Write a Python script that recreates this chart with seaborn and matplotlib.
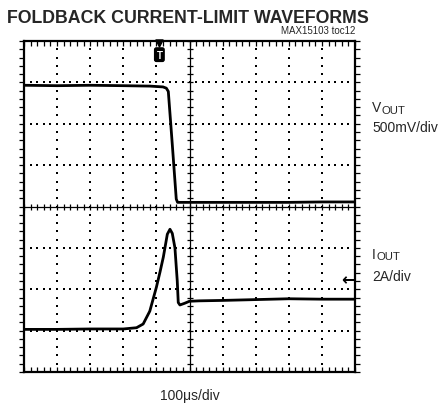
"""
Foldback current-limit waveforms (scope capture): VOUT and IOUT vs time.
"""

import numpy as np
import pandas as pd
import matplotlib
matplotlib.use('Agg')
import matplotlib.pyplot as plt
from matplotlib import font_manager
import seaborn as sns

# trace data, in scope divisions (x: 10 div, y: 8 div)
vout_t = [0, 1, 2, 3, 3.8, 4.2, 4.3, 4.36, 4.48, 4.6, 4.64, 4.8, 5, 6, 7, 8, 9, 10]
vout_v = [6.93, 6.92, 6.93, 6.92, 6.91, 6.89, 6.86, 6.78, 5.5, 4.18, 4.1, 4.1,
          4.1, 4.1, 4.1, 4.1, 4.11, 4.11]

iout_t = [0, 1, 2, 3, 3.4, 3.6, 3.8, 4.0, 4.11, 4.21, 4.33, 4.41, 4.48, 4.56,
          4.63, 4.66, 4.71, 4.85, 5, 5.3, 6, 7, 8, 9, 10]
iout_v = [1.03, 1.03, 1.04, 1.04, 1.07, 1.16, 1.47, 2.05, 2.42, 2.78, 3.33, 3.45,
          3.35, 3.0, 2.2, 1.68, 1.62, 1.66, 1.71, 1.72, 1.73, 1.75, 1.77, 1.76, 1.76]

title = 'FOLDBACK CURRENT-LIMIT WAVEFORMS'
tag = 'MAX15103 toc12'
time_label = '100\u03bcs/div'

sns.set_theme(style='white')
plt.rcParams['font.family'] = ['Liberation Sans', 'DejaVu Sans']

installed = {f.name for f in font_manager.fontManager.ttflist}
if 'Liberation Sans Narrow' in installed:
    title_font, title_size = ['Liberation Sans Narrow', 'DejaVu Sans'], 14.5
else:
    title_font, title_size = ['Liberation Sans', 'DejaVu Sans'], 12.8

W, H = 444, 410
fig = plt.figure(figsize=(W / 100, H / 100), dpi=100)
ax = fig.add_axes([24 / W, 37 / H, 331 / W, 331 / H])

df = pd.concat([
    pd.DataFrame({'t': vout_t, 'v': vout_v, 'trace': 'VOUT'}),
    pd.DataFrame({'t': iout_t, 'v': iout_v, 'trace': 'IOUT'}),
])

# graticule: dotted grid
gx = np.arange(0, 10.001, 0.2)
gy = np.arange(0, 8.001, 0.2)
for yy in range(1, 8):
    if yy != 4:
        ax.scatter(gx, np.full_like(gx, yy), s=1.8, marker='s', color='black',
                   linewidths=0, zorder=1)
for xx in range(1, 10):
    if xx != 5:
        ax.scatter(np.full_like(gy, xx), gy, s=1.8, marker='s', color='black',
                   linewidths=0, zorder=1)

# center cross with tick marks
ax.axhline(4, color='black', lw=0.9, zorder=1)
ax.axvline(5, color='black', lw=0.9, zorder=1)
ax.scatter(gx, np.full_like(gx, 4), marker='|', s=14, color='black',
           linewidths=0.9, zorder=1)
ax.scatter(np.full_like(gy, 5), gy, marker='_', s=14, color='black',
           linewidths=0.9, zorder=1)

# border tick marks (inward only)
tick_kw = dict(s=14, color='black', linewidths=0.9, zorder=2, clip_on=False)
ax.scatter(gx, np.full_like(gx, 0), marker=2, **tick_kw)    # up
ax.scatter(gx, np.full_like(gx, 8), marker=3, **tick_kw)    # down
ax.scatter(np.full_like(gy, 0), gy, marker=0, **tick_kw)    # right
ax.scatter(np.full_like(gy, 10), gy, marker=1, **tick_kw)   # left

# traces
for name, d in df.groupby('trace', sort=False):
    sns.lineplot(data=d, x='t', y='v', ax=ax, color='black', lw=2.0,
                 sort=False, estimator=None, legend=False, zorder=3)

ax.set_xlim(0, 10)
ax.set_ylim(0, 8)
ax.set_xlabel('')
ax.set_ylabel('')
ax.set_xticks([])
ax.set_yticks([])
for s in ax.spines.values():
    s.set_visible(True)
    s.set_color('black')
    s.set_linewidth(1.6)
    s.set_zorder(4)

# trigger marker and ground reference arrow
ax.scatter([4.09], [7.95], marker='v', s=26, color='black', zorder=4,
           clip_on=False)
ax.text(4.09, 7.67, 'T', ha='center', va='center', fontsize=7,
        fontweight='bold', color='white', zorder=5,
        bbox=dict(boxstyle='round,pad=0.18', fc='black', ec='black'))
ax.text(9.8, 2.25, '\u2190', ha='center', va='center', fontsize=12,
        fontweight='bold', family=['DejaVu Sans'], color='black', zorder=4)

# texts
def fx(px):
    return px / W

def fy(py):
    return 1 - py / H

fig.text(fx(7), fy(23), title, ha='left', va='baseline', fontsize=title_size,
         fontweight='bold', family=title_font)
fig.text(fx(355), fy(34), tag, ha='right', va='baseline', fontsize=7)

fig.text(fx(372), fy(112), 'V', ha='left', va='baseline', fontsize=10)
fig.text(fx(381.5), fy(113.5), 'OUT', ha='left', va='baseline', fontsize=8.2)
fig.text(fx(372), fy(132), '500mV/div', ha='left', va='baseline', fontsize=10)

fig.text(fx(372), fy(259), 'I', ha='left', va='baseline', fontsize=10)
fig.text(fx(376.5), fy(260.5), 'OUT', ha='left', va='baseline', fontsize=8.2)
fig.text(fx(372), fy(281), '2A/div', ha='left', va='baseline', fontsize=10)

fig.text(fx(190), fy(400), time_label, ha='center', va='baseline', fontsize=10)

fig.savefig('out.png', dpi=100, facecolor='white')
